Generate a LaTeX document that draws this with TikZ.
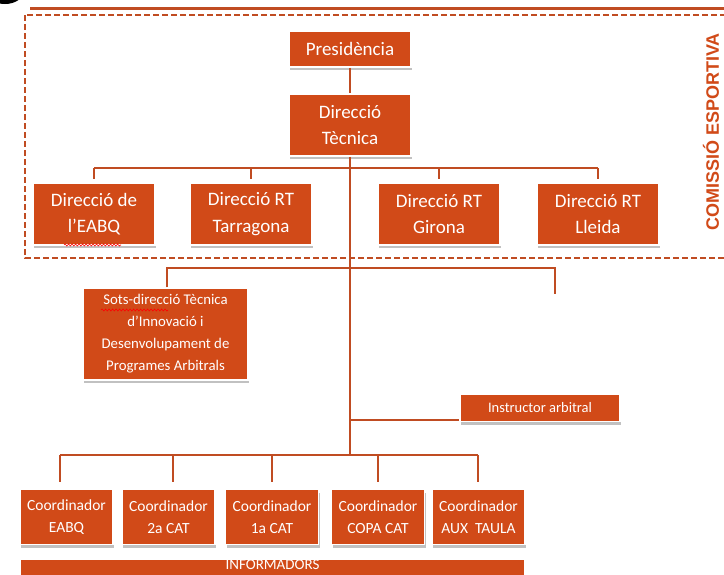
\documentclass[tikz,border=0pt]{standalone}
\usepackage{fontspec}
\setmainfont{Carlito}
\newfontfamily\comfont{Liberation Sans}
\usetikzlibrary{shadows,decorations.pathmorphing}
\definecolor{boxc}{RGB}{209,74,24}
\definecolor{linec}{RGB}{192,76,34}
\begin{document}
\begin{tikzpicture}[x=1pt,y=-1pt,
  box/.style={rectangle, fill=boxc, draw=white, line width=1.5pt, text=white, align=center, inner sep=0pt,
    drop shadow={opacity=0.35, shadow xshift=1pt, shadow yshift=-3pt, fill=black!70}},
  big/.style={box, minimum width=122pt, minimum height=62pt, font=\fontsize{19}{26.5}\selectfont},
  coord/.style={box, minimum width=93pt, minimum height=55pt, font=\fontsize{15.5}{22}\selectfont},
  conn/.style={draw=linec, line width=1.6pt},
  spell/.style={draw=red, line width=0.6pt, decorate, decoration={snake, amplitude=1pt, segment length=3.5pt}}]
\useasboundingbox (0,0) rectangle (724,574);
\clip (0,0) rectangle (724,574);
% decorations at top
\fill[black] (5,-8) ellipse (18 and 12);
\draw[linec, line width=3pt] (30,8) -- (724,8);
\draw[linec, line width=1.6pt, dash pattern=on 6pt off 3pt] (25,15) rectangle (740,258);
\node[rotate=90, text=boxc, font=\comfont\bfseries\fontsize{18}{20}\selectfont] (com) at (711,132) {COMISSIÓ ESPORTIVA};
% nodes
\node[box, minimum width=122pt, minimum height=36pt, font=\fontsize{19}{22}\selectfont] (pres) at (350,49) {Presidència};
\node[big] (dt) at (350,125) {Direcció\\Tècnica};
\node[big] (eabq) at (94,214) {Direcció de\\l’EABQ};
\node[big] (tarr) at (251,214) {Direcció RT\\Tarragona};
\node[big] (gir) at (439,214) {Direcció RT\\Girona};
\node[big] (llei) at (598,214) {Direcció RT\\Lleida};
\node[box, minimum width=165pt, minimum height=92pt, font=\fontsize{14.8}{22}\selectfont] (sots) at (165.5,334) {Sots-direcció Tècnica\\d’Innovació i\\Desenvolupament de\\Programes Arbitrals};
\node[box, minimum width=160pt, minimum height=27pt, font=\fontsize{14.5}{16}\selectfont] (instr) at (540,408) {Instructor arbitral};
\node[coord] (c1) at (66.5,517) {Coordinador\\EABQ};
\node[coord] (c2) at (168.5,517) {Coordinador\\2a CAT};
\node[coord] (c3) at (272,517) {Coordinador\\1a CAT};
\node[coord] (c4) at (378,517) {Coordinador\\COPA CAT};
\node[coord] (c5) at (478.5,517) {Coordinador\\AUX\ \ TAULA};
\node[box, minimum width=505pt, minimum height=30pt] (inf) at (272.5,574) {};
\node[text=white, font=\fontsize{15}{16}\selectfont] (inft) at (272.5,565) {INFORMADORS};
% spell-check underlines
\draw[spell] (101,310) -- (168,310);
\draw[spell] (64,245) -- (121,245);
% coordinates
\coordinate (b1) at (350,168);
\coordinate (b2) at (350,268);
\coordinate (b3) at (350,420);
\coordinate (b4) at (350,455);
\coordinate (rend) at (555,294);
% connectors
\draw[conn] (pres) -- (dt);
\draw[conn] (dt.south) -- (b4);
\draw[conn] (eabq.north |- b1) -- (llei.north |- b1);
\foreach \n in {eabq,tarr,gir,llei} \draw[conn, shorten >=3pt] (\n.north |- b1) -- (\n.north);
\draw[conn] (sots.north -| 167,0) |- (b2) -- (rend |- b2) -- (rend);
\draw[conn] (b3) -- (instr.south west |- b3);
\draw[conn] (60,455) -- (478,455);
\draw[conn, shorten >=8pt] (60,455) -- (60,490);
\draw[conn, shorten >=8pt] (173,455) -- (173,490);
\draw[conn, shorten >=8pt] (272,455) -- (272,490);
\draw[conn, shorten >=8pt] (378,455) -- (378,490);
\draw[conn, shorten >=8pt] (478,455) -- (478,490);
\end{tikzpicture}
\end{document}
